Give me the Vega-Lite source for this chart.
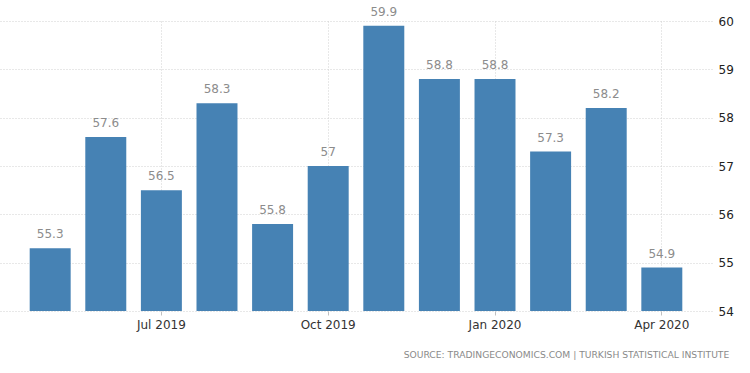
{
  "$schema": "https://vega.github.io/schema/vega-lite/v6.json",
  "width": 712,
  "height": 290,
  "autosize": {"type": "none"},
  "padding": {"left": 0, "top": 21, "right": 38, "bottom": 62},
  "background": "white",
  "config": {"view": {"stroke": null}, "font": "DejaVu Sans"},
  "title": {
    "text": "SOURCE: TRADINGECONOMICS.COM  |  TURKISH STATISTICAL INSTITUTE",
    "orient": "bottom",
    "anchor": "end",
    "offset": 21,
    "dx": -4,
    "fontSize": 9.2,
    "fontWeight": "normal",
    "color": "#8a8a8a",
    "font": "DejaVu Sans"
  },
  "data": {
    "values": [
      {"month": "May 2019", "value": 55.3},
      {"month": "Jun 2019", "value": 57.6},
      {"month": "Jul 2019", "value": 56.5},
      {"month": "Aug 2019", "value": 58.3},
      {"month": "Sep 2019", "value": 55.8},
      {"month": "Oct 2019", "value": 57},
      {"month": "Nov 2019", "value": 59.9},
      {"month": "Dec 2019", "value": 58.8},
      {"month": "Jan 2020", "value": 58.8},
      {"month": "Feb 2020", "value": 57.3},
      {"month": "Mar 2020", "value": 58.2},
      {"month": "Apr 2020", "value": 54.9}
    ]
  },
  "encoding": {
    "x": {
      "field": "month",
      "type": "ordinal",
      "sort": null,
      "scale": {"paddingInner": 0.263, "paddingOuter": 0.534},
      "axis": {
        "title": null,
        "values": ["Jul 2019", "Oct 2019", "Jan 2020", "Apr 2020"],
        "labelAngle": 0,
        "domain": false,
        "grid": true,
        "gridColor": "#d0d0d0",
        "gridDash": [1, 2],
        "bandPosition": 0.5,
        "tickColor": "#c0c0c0",
        "tickSize": 4,
        "labelFontSize": 12,
        "labelColor": "#333333",
        "labelPadding": 4
      }
    },
    "y": {
      "field": "value",
      "type": "quantitative",
      "scale": {"domain": [54, 60], "zero": false, "nice": false},
      "axis": {
        "title": null,
        "orient": "right",
        "values": [54, 55, 56, 57, 58, 59, 60],
        "domain": false,
        "ticks": false,
        "gridColor": "#d0d0d0",
        "gridDash": [1, 2],
        "labelFontSize": 12,
        "labelColor": "#222222",
        "labelPadding": 6
      }
    }
  },
  "layer": [
    {"mark": {"type": "bar", "color": "#4682b4", "clip": true}},
    {
      "mark": {"type": "text", "baseline": "bottom", "dy": -7, "fontSize": 12, "color": "#8c8c8c"},
      "encoding": {"text": {"field": "value", "type": "quantitative"}}
    }
  ]
}
